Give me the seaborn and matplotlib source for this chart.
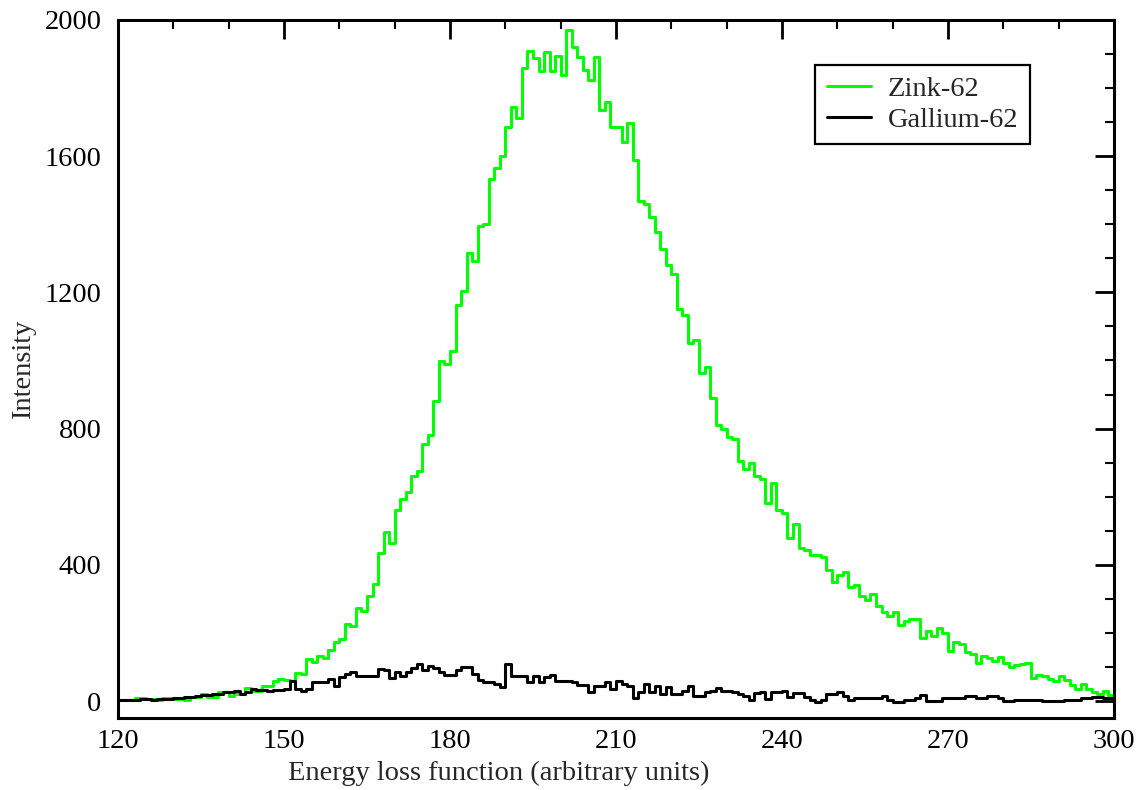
import numpy as np
import pandas as pd
import matplotlib
matplotlib.use("Agg")
import matplotlib.pyplot as plt
import seaborn as sns
from matplotlib.ticker import MultipleLocator

# ---- data: one value per unit-wide bin, bins start at 120 ----
bin_start = 120
bin_width = 1

zink = [3, 4, 3, 8, 9, 6, 5, 4, 8, 8, 6, 5, 3, 12, 13, 22, 12, 12, 25, 25,
        16, 20, 22, 38, 30, 30, 45, 45, 60, 65, 63, 58, 82, 79, 123, 115, 131, 125, 150, 174,
        182, 226, 219, 272, 265, 309, 343, 434, 495, 463, 561, 594, 614, 661, 675, 756, 780, 881, 998, 991,
        1027, 1164, 1205, 1316, 1291, 1394, 1401, 1533, 1565, 1601, 1687, 1744, 1711, 1860, 1910, 1887, 1851, 1907, 1851, 1894,
        1839, 1971, 1922, 1892, 1853, 1824, 1890, 1736, 1758, 1687, 1687, 1643, 1697, 1589, 1467, 1460, 1421, 1376, 1327, 1280,
        1255, 1150, 1135, 1052, 1060, 962, 981, 890, 811, 800, 776, 770, 705, 682, 698, 661, 651, 581, 641, 561,
        553, 480, 519, 450, 444, 428, 428, 424, 385, 350, 370, 379, 336, 340, 309, 297, 314, 278, 262, 250,
        260, 223, 235, 240, 240, 184, 206, 190, 213, 199, 148, 172, 167, 145, 138, 111, 133, 125, 118, 128,
        113, 99, 106, 108, 111, 67, 76, 72, 65, 60, 72, 62, 47, 35, 50, 35, 25, 21, 30, 18]

gallium = [4, 4, 4, 4, 6, 6, 4, 6, 6, 6, 10, 10, 11, 11, 14, 18, 18, 21, 21, 25,
           25, 29, 21, 27, 35, 32, 33, 30, 33, 33, 35, 60, 35, 30, 35, 55, 55, 55, 65, 45,
           70, 78, 84, 72, 72, 72, 72, 94, 90, 67, 84, 72, 84, 96, 108, 90, 102, 96, 84, 76,
           76, 90, 99, 99, 80, 62, 55, 55, 50, 40, 108, 74, 74, 74, 55, 74, 55, 70, 76, 60,
           60, 60, 55, 47, 47, 27, 43, 43, 57, 35, 60, 50, 45, 8, 27, 50, 27, 45, 21, 40,
           21, 21, 30, 43, 15, 15, 25, 30, 37, 30, 30, 27, 21, 15, 4, 23, 25, 5, 25, 25,
           30, 12, 23, 23, 12, 4, -2, 4, 21, 22, 25, 14, 4, 8, 8, 8, 8, 8, 14, 4,
           -2, -2, 4, 4, 10, 18, 1, 1, 1, 8, 8, 8, 8, 14, 14, 8, 8, 14, 14, 8,
           1, 1, 4, 4, 4, 4, 4, 1, 1, 1, 1, 4, 4, 4, 8, 8, 11, 11, 8, 8]

series_labels = ["Zink-62", "Gallium-62"]
series_colors = ["#00ff00", "#000000"]
x_label = "Energy loss function (arbitrary units)"
y_label = "Intensity"

# ---- style ----
sns.set_style("white")
plt.rcParams["font.family"] = ["Liberation Serif", "DejaVu Serif"]

FS = 20.5

fig = plt.figure(figsize=(11.41, 7.90), dpi=100)
ax = fig.add_axes([0.1034, 0.0911, 0.8729, 0.8836])

for vals, lab, col in zip([zink, gallium], series_labels, series_colors):
    edges = bin_start + bin_width * np.arange(len(vals) + 1)
    df = pd.DataFrame({"x": edges, "y": list(vals) + [vals[-1]]})
    sns.lineplot(data=df, x="x", y="y", ax=ax, color=col, linewidth=2.2,
                 drawstyle="steps-post", estimator=None, sort=False, label=lab)

ax.set_xlim(120, 300)
ax.set_ylim(-50, 2000)
ax.xaxis.set_major_locator(MultipleLocator(30))
ax.xaxis.set_minor_locator(MultipleLocator(10))
ax.yaxis.set_major_locator(MultipleLocator(400))
ax.yaxis.set_minor_locator(MultipleLocator(100))

ax.tick_params(which="both", direction="in", top=True, right=True, colors="black")
ax.tick_params(which="major", length=13.5, width=2.0, labelsize=FS)
ax.tick_params(axis="y", which="major", pad=12)
ax.tick_params(axis="x", which="major", pad=8)
ax.tick_params(which="minor", length=6.5, width=1.5)

for sp in ax.spines.values():
    sp.set_linewidth(2.2)
    sp.set_color("black")

ax.set_xlabel(x_label, fontsize=FS)
ax.set_ylabel(y_label, fontsize=FS)
ax.xaxis.set_label_coords(0.3825, -0.062)
ax.yaxis.set_label_coords(-0.082, 0.5)

leg = ax.legend(loc="upper left", bbox_to_anchor=(0.700, 0.9355), frameon=True,
                fancybox=False, edgecolor="black", fontsize=FS, handlelength=1.55,
                handletextpad=0.6, borderpad=0.4, labelspacing=0.15, borderaxespad=0)
leg.get_frame().set_linewidth(1.6)
leg.get_frame().set_alpha(1)

fig.savefig("out.png", dpi=100)
